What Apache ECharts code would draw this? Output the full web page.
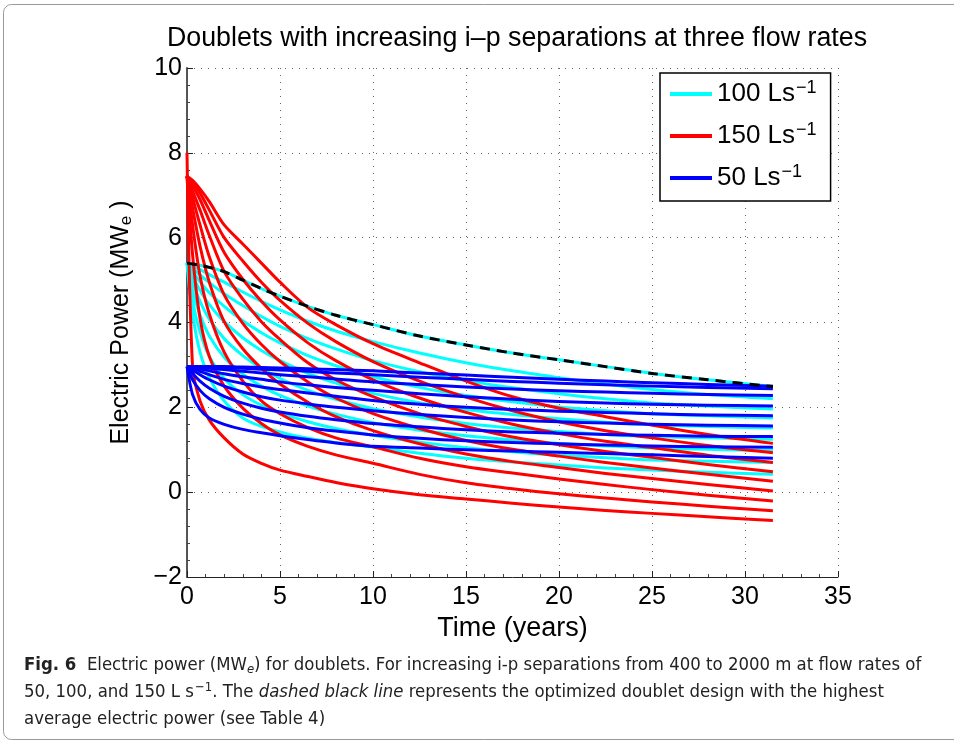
<!DOCTYPE html>
<html>
<head>
<meta charset="utf-8">
<title>Doublets</title>
<script src="https://cdn.jsdelivr.net/npm/echarts@6/dist/echarts.min.js"></script>
<style>
  html, body { margin: 0; padding: 0; background: #fff; }
  #chart { width: 954px; height: 743px; }
</style>
</head>
<body>
<div id="chart"></div>
<script>
// time (years) at which every curve is sampled
var times = [0, 0.3, 0.7, 1.2, 2, 3, 4, 5, 6.5, 8, 10, 12.5, 15, 17.5, 20, 22.5, 25, 28, 31.5];

// 100 L/s, i-p separations 400..2000 m (top = widest)
var cyanCurves = [
  [5.40, 5.38, 5.35, 5.30, 5.20, 5.00, 4.80, 4.62, 4.38, 4.17, 3.95, 3.68, 3.47, 3.28, 3.12, 2.96, 2.80, 2.65, 2.49],
  [5.40, 5.34, 5.25, 5.13, 4.95, 4.72, 4.50, 4.30, 4.03, 3.80, 3.55, 3.28, 3.05, 2.86, 2.70, 2.55, 2.42, 2.30, 2.20],
  [5.40, 5.28, 5.12, 4.94, 4.68, 4.40, 4.14, 3.91, 3.62, 3.38, 3.10, 2.84, 2.63, 2.46, 2.32, 2.20, 2.10, 2.03, 1.96],
  [5.40, 5.20, 4.96, 4.70, 4.38, 4.04, 3.76, 3.52, 3.22, 2.98, 2.72, 2.47, 2.28, 2.13, 2.01, 1.92, 1.85, 1.80, 1.75],
  [5.40, 5.10, 4.76, 4.42, 4.02, 3.64, 3.34, 3.10, 2.80, 2.57, 2.33, 2.11, 1.95, 1.83, 1.73, 1.65, 1.59, 1.55, 1.51],
  [5.40, 4.95, 4.50, 4.08, 3.62, 3.22, 2.92, 2.68, 2.40, 2.19, 1.97, 1.77, 1.62, 1.51, 1.43, 1.36, 1.31, 1.28, 1.25],
  [5.40, 4.75, 4.18, 3.68, 3.18, 2.78, 2.50, 2.28, 2.03, 1.84, 1.64, 1.46, 1.33, 1.23, 1.15, 1.09, 1.04, 1.01, 0.98],
  [5.40, 4.50, 3.78, 3.20, 2.68, 2.30, 2.05, 1.87, 1.66, 1.50, 1.34, 1.18, 1.05, 0.95, 0.87, 0.81, 0.76, 0.73, 0.70],
  [5.40, 4.20, 3.30, 2.70, 2.15, 1.75, 1.55, 1.42, 1.27, 1.17, 1.06, 0.92, 0.80, 0.71, 0.64, 0.57, 0.52, 0.47, 0.42]
];

// 150 L/s
var redCurves = [
  [7.45, 7.35, 7.15, 6.85, 6.30, 5.85, 5.40, 4.95, 4.35, 3.95, 3.50, 3.05, 2.62, 2.25, 1.98, 1.78, 1.58, 1.36, 1.15],
  [7.45, 7.30, 7.05, 6.65, 6.00, 5.45, 4.95, 4.52, 3.98, 3.55, 3.08, 2.62, 2.24, 1.92, 1.66, 1.45, 1.28, 1.10, 0.93],
  [7.45, 7.22, 6.90, 6.40, 5.65, 5.02, 4.50, 4.06, 3.52, 3.10, 2.65, 2.22, 1.88, 1.60, 1.38, 1.20, 1.05, 0.87, 0.70],
  [7.45, 7.10, 6.65, 6.05, 5.20, 4.55, 4.02, 3.60, 3.05, 2.65, 2.25, 1.85, 1.55, 1.30, 1.12, 0.96, 0.82, 0.65, 0.48],
  [7.45, 6.95, 6.30, 5.55, 4.65, 3.98, 3.48, 3.08, 2.60, 2.22, 1.85, 1.50, 1.22, 1.01, 0.85, 0.70, 0.57, 0.42, 0.26],
  [7.45, 6.70, 5.80, 4.95, 4.02, 3.38, 2.92, 2.55, 2.12, 1.78, 1.45, 1.14, 0.90, 0.72, 0.58, 0.44, 0.32, 0.18, 0.03],
  [7.45, 6.30, 5.10, 4.20, 3.30, 2.62, 2.15, 1.85, 1.52, 1.28, 1.07, 0.80, 0.60, 0.45, 0.31, 0.18, 0.06, -0.07, -0.21],
  [7.45, 5.60, 4.10, 3.20, 2.50, 1.98, 1.62, 1.35, 1.08, 0.88, 0.68, 0.42, 0.22, 0.08, -0.04, -0.14, -0.23, -0.33, -0.44],
  [8.00, 2.95, 2.15, 1.70, 1.28, 0.90, 0.68, 0.52, 0.37, 0.23, 0.08, -0.06, -0.16, -0.26, -0.35, -0.43, -0.50, -0.58, -0.67]
];

// 50 L/s
var blueCurves = [
  [2.96, 2.96, 2.96, 2.96, 2.96, 2.95, 2.94, 2.93, 2.91, 2.89, 2.86, 2.81, 2.76, 2.71, 2.66, 2.62, 2.58, 2.54, 2.50],
  [2.96, 2.96, 2.96, 2.95, 2.94, 2.92, 2.90, 2.88, 2.85, 2.81, 2.77, 2.71, 2.66, 2.61, 2.57, 2.53, 2.50, 2.47, 2.44],
  [2.96, 2.95, 2.94, 2.92, 2.89, 2.85, 2.81, 2.77, 2.72, 2.67, 2.60, 2.54, 2.48, 2.43, 2.39, 2.36, 2.33, 2.30, 2.28],
  [2.96, 2.94, 2.91, 2.86, 2.79, 2.72, 2.66, 2.60, 2.53, 2.47, 2.40, 2.32, 2.25, 2.19, 2.14, 2.10, 2.07, 2.05, 2.03],
  [2.96, 2.92, 2.85, 2.77, 2.66, 2.56, 2.48, 2.42, 2.34, 2.26, 2.16, 2.07, 2.00, 1.95, 1.91, 1.88, 1.85, 1.82, 1.80],
  [2.96, 2.88, 2.77, 2.65, 2.50, 2.36, 2.25, 2.17, 2.08, 2.00, 1.92, 1.83, 1.76, 1.70, 1.66, 1.63, 1.60, 1.58, 1.56],
  [2.96, 2.80, 2.62, 2.45, 2.26, 2.10, 1.98, 1.89, 1.79, 1.71, 1.62, 1.54, 1.47, 1.42, 1.39, 1.36, 1.34, 1.32, 1.31],
  [2.96, 2.65, 2.40, 2.20, 2.00, 1.84, 1.72, 1.63, 1.52, 1.44, 1.35, 1.27, 1.21, 1.17, 1.14, 1.11, 1.09, 1.07, 1.06],
  [2.96, 2.30, 1.95, 1.75, 1.60, 1.48, 1.40, 1.33, 1.24, 1.16, 1.08, 1.04, 1.00, 0.97, 0.94, 0.91, 0.88, 0.84, 0.80]
];

// optimized doublet (dashed black)
var optimized = [5.40, 5.38, 5.35, 5.30, 5.20, 5.00, 4.80, 4.62, 4.38, 4.17, 3.95, 3.68, 3.47, 3.28, 3.12, 2.96, 2.80, 2.65, 2.49];

var legendNames = ["100", "150", "50"];
var xTicks = { min: 0, max: 35, step: 5 };
var yTicks = { min: -2, max: 10, step: 2 };

var FONT = "'Liberation Sans', Arial, Helvetica, sans-serif";
var CAPTION_FONT = "'Liberation Sans Narrow', 'DejaVu Sans Condensed', 'DejaVu Sans', sans-serif";
var CAPTION_SIZE = 18.4;

function toPoints(values) {
  return times.map(function (t, i) {
    return [t, values[i]];
  });
}

function curveSeries(name, values, color, dashed) {
  return {
    name: name,
    type: "line",
    data: toPoints(values),
    showSymbol: false,
    smooth: 0.3,
    lineStyle: {
      color: color,
      width: 3,
      type: dashed ? [10, 7] : "solid",
      join: "round",
    },
    itemStyle: { color: color },
    emphasis: { disabled: true },
  };
}

var series = [];
cyanCurves.forEach(function (c) {
  series.push(curveSeries("100", c, "#00ffff"));
});
redCurves.forEach(function (c) {
  series.push(curveSeries("150", c, "#ff0000"));
});
blueCurves.forEach(function (c) {
  series.push(curveSeries("50", c, "#0000ff"));
});
series.push(curveSeries("optimized", optimized, "#000000", true));

var chart = echarts.init(document.getElementById("chart"));
chart.setOption({
  animation: false,
  backgroundColor: "#fff",
  title: {
    text: "Doublets with increasing i\u2013p separations at three flow rates",
    left: 512,
    textAlign: "center",
    top: 20,
    textStyle: {
      fontFamily: FONT,
      fontSize: 26.8,
      fontWeight: "normal",
      color: "#000",
    },
  },
  grid: {
    left: 187,
    top: 68,
    right: 116,
    bottom: 166,
  },
  legend: {
    data: legendNames,
    orient: "vertical",
    left: 660,
    top: 73,
    padding: [6, 14, 6, 10],
    itemGap: 10,
    itemWidth: 42,
    itemHeight: 4,
    icon: "rect",
    backgroundColor: "#fff",
    borderColor: "#000",
    borderWidth: 1.5,
    borderRadius: 0,
    selectedMode: false,
    formatter: function (name) {
      return "{a|" + name + " Ls}{s|\u22121}";
    },
    textStyle: {
      fontFamily: FONT,
      fontSize: 26,
      color: "#000",
      rich: {
        a: { fontFamily: FONT, fontSize: 26, lineHeight: 30, color: "#000" },
        s: { fontFamily: FONT, fontSize: 18, lineHeight: 30, verticalAlign: "top", padding: [0, 0, 14, 1], color: "#000" },
      },
    },
  },
  xAxis: {
    type: "value",
    min: xTicks.min,
    max: xTicks.max,
    interval: xTicks.step,
    name: "Time (years)",
    nameLocation: "middle",
    nameGap: 36,
    nameTextStyle: { fontFamily: FONT, fontSize: 27, color: "#000" },
    axisLine: { show: true, onZero: false, lineStyle: { color: "#222", width: 1 } },
    axisTick: { show: true, inside: true, length: 6, lineStyle: { color: "#222" } },
    minorTick: { show: true, splitNumber: 5, length: 3, lineStyle: { color: "#444" } },
    axisLabel: { fontFamily: FONT, fontSize: 25, color: "#000", margin: 8 },
    splitLine: { show: true, lineStyle: { color: "#666", width: 1, type: [1, 6] } },
  },
  yAxis: {
    type: "value",
    min: yTicks.min,
    max: yTicks.max,
    interval: yTicks.step,
    name: "Electric Power (MW{e|e} )",
    nameLocation: "middle",
    nameGap: 52,
    nameRotate: 90,
    nameTextStyle: {
      fontFamily: FONT,
      fontSize: 25,
      color: "#000",
      rich: {
        e: { fontFamily: FONT, fontSize: 17, verticalAlign: "bottom", padding: [10, 0, 0, 0], color: "#000" },
      },
    },
    axisLine: { show: true, onZero: false, lineStyle: { color: "#555", width: 2 } },
    axisTick: { show: true, inside: true, length: 6, lineStyle: { color: "#222" } },
    minorTick: { show: true, splitNumber: 5, length: 3, lineStyle: { color: "#444" } },
    axisLabel: {
      fontFamily: FONT,
      fontSize: 25,
      color: "#000",
      margin: 5,
      formatter: function (v) {
        return v < 0 ? "\u2212" + Math.abs(v) : String(v);
      },
    },
    splitLine: { show: true, lineStyle: { color: "#666", width: 1, type: [1, 6] } },
  },
  graphic: [
    {
      type: "rect",
      silent: true,
      shape: { x: 3.5, y: 4.5, width: 980, height: 735, r: 8 },
      style: { fill: "none", stroke: "#999", lineWidth: 1 },
    },
    {
      type: "text",
      silent: true,
      x: 24,
      y: 665,
      style: {
        text: "{b|Fig. 6}  Electric power (MW{sub|e}) for doublets. For increasing i-p separations from 400 to 2000 m at flow rates of",
        font: CAPTION_SIZE + "px " + CAPTION_FONT,
        fill: "#222",
        verticalAlign: "middle",
        rich: {
          b: { fontFamily: CAPTION_FONT, fontSize: CAPTION_SIZE, fontWeight: "bold", fill: "#222" },
          sub: { fontFamily: CAPTION_FONT, fontSize: 13, fontStyle: "italic", verticalAlign: "bottom", padding: [9, 0, 0, 0], fill: "#222" },
        },
      },
    },
    {
      type: "text",
      silent: true,
      x: 24,
      y: 692,
      style: {
        text: "50, 100, and 150 L s{sup|\u22121}. The {i|dashed black line} represents the optimized doublet design with the highest",
        font: CAPTION_SIZE + "px " + CAPTION_FONT,
        fill: "#222",
        verticalAlign: "middle",
        rich: {
          i: { fontFamily: CAPTION_FONT, fontSize: CAPTION_SIZE, fontStyle: "italic", fill: "#222" },
          sup: { fontFamily: CAPTION_FONT, fontSize: 13, verticalAlign: "top", padding: [0, 0, 9, 1], fill: "#222" },
        },
      },
    },
    {
      type: "text",
      silent: true,
      x: 24,
      y: 719,
      style: {
        text: "average electric power (see Table 4)",
        font: CAPTION_SIZE + "px " + CAPTION_FONT,
        fill: "#222",
        verticalAlign: "middle",
      },
    },
  ],
  series: series,
});
</script>
</body>
</html>
